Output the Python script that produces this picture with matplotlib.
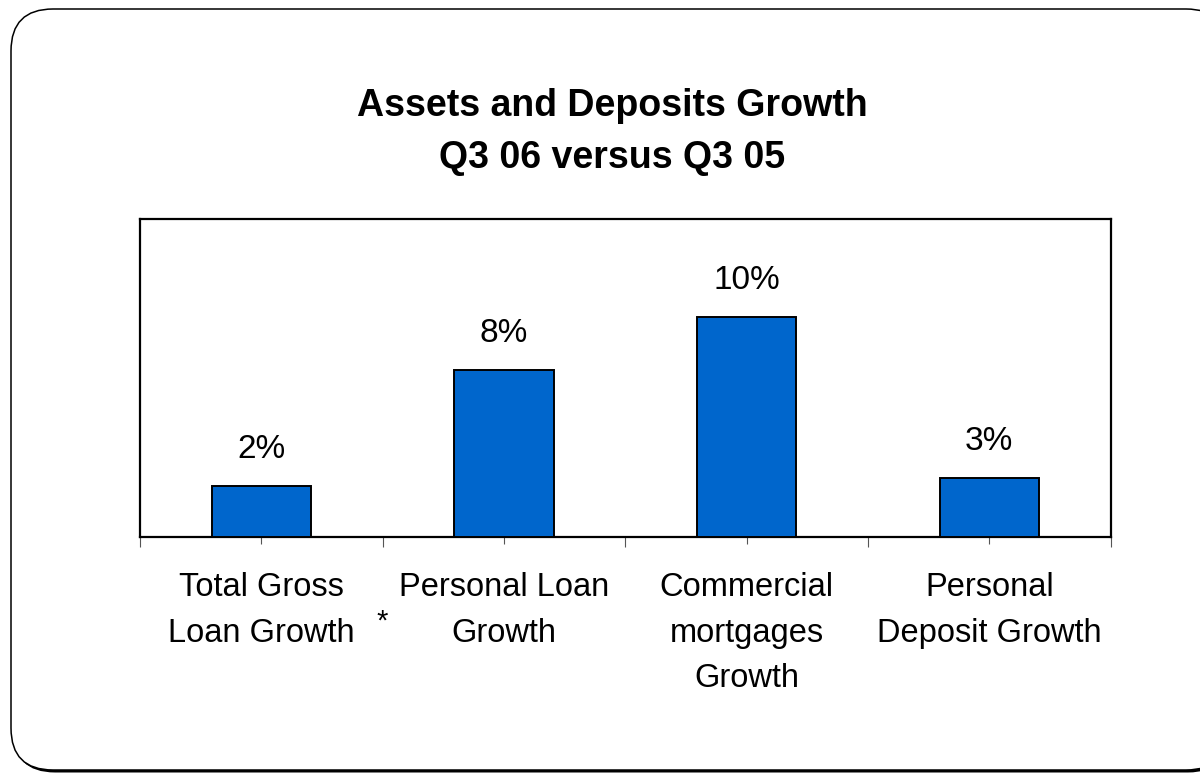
import matplotlib
matplotlib.use("Agg")
import matplotlib.pyplot as plt
from matplotlib.patches import FancyBboxPatch
import numpy as np

plt.rcParams['font.family'] = ['Liberation Sans', 'DejaVu Sans']

categories = ["Total Gross\nLoan Growth", "Personal Loan\nGrowth",
              "Commercial\nmortgages\nGrowth", "Personal\nDeposit Growth"]
values = [2.33, 7.6, 10.0, 2.71]
value_labels = ["2%", "8%", "10%", "3%"]
title_lines = ["Assets and Deposits Growth", "Q3 06 versus Q3 05"]

W, H = 1200, 774
fig = plt.figure(figsize=(W / 100, H / 100), dpi=100)
fig.patch.set_facecolor('white')

def fx(px): return px / W
def fy(py): return 1 - py / H

# rounded frame with shadow
shadow = FancyBboxPatch((fx(13), fy(772.5)), fx(1230) - fx(13), fy(11) - fy(772.5),
                        boxstyle="round,pad=0,rounding_size=0.035",
                        transform=fig.transFigure, facecolor='black', edgecolor='black',
                        lw=0, mutation_aspect=W / H, zorder=0)
frame = FancyBboxPatch((fx(11), fy(770)), fx(1228) - fx(11), fy(9) - fy(770),
                       boxstyle="round,pad=0,rounding_size=0.035",
                       transform=fig.transFigure, facecolor='white', edgecolor='black',
                       lw=1.1, mutation_aspect=W / H, zorder=0.5)
fig.patches.extend([shadow, frame])

ax = fig.add_axes([fx(140), fy(537.3), fx(1110.7) - fx(140), fy(219.3) - fy(537.3)])
ax.set_zorder(2)
x = np.arange(len(categories))
ax.bar(x, values, width=0.41, color='#0066CC', edgecolor='black', linewidth=1.4, zorder=3)
ax.set_xlim(-0.5, len(categories) - 0.5)
ax.set_ylim(0, 14.45)
ax.set_yticks([])

for xi, v, lab in zip(x, values, value_labels):
    ax.annotate(lab, (xi, v), xytext=(0, 20), textcoords='offset points',
                ha='center', va='baseline', fontsize=24, color='black')

ax.set_xticks(np.arange(len(categories) + 1) - 0.5)
ax.set_xticklabels([])
ax.set_xticks(x, minor=True)
ax.set_xticklabels(categories, minor=True, fontsize=23.5, linespacing=1.6)
ax.tick_params(axis='x', which='major', length=7.5, width=0.8, color='#555555', direction='out')
ax.tick_params(axis='x', which='minor', length=5.2, width=0.8, color='#555555', direction='out', pad=20)

for s in ax.spines.values():
    s.set_linewidth(1.6)
    s.set_color('black')

fig.text(0.5104, fy(116), title_lines[0], ha='center', va='baseline', fontsize=27, fontweight='bold')
fig.text(0.5104, fy(168), title_lines[1], ha='center', va='baseline', fontsize=27, fontweight='bold')

fig.text(fx(382), fy(630), "*", ha='center', va='baseline', fontsize=21)

fig.savefig("out.png", dpi=100)
